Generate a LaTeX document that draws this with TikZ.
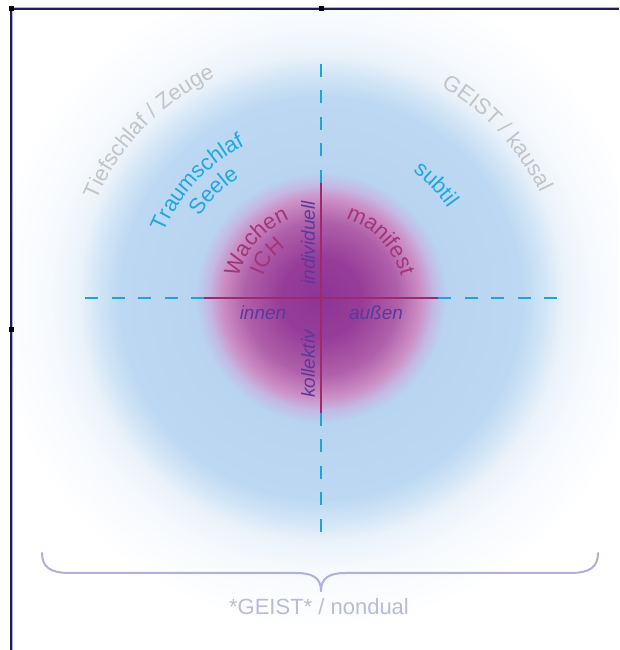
\documentclass[tikz,border=0pt]{standalone}
\usepackage{fontspec}
\setmainfont{Liberation Sans}
\usetikzlibrary{decorations.text,calc}
\definecolor{g0}{RGB}{142,52,150}
\definecolor{g1}{RGB}{150,60,152}
\definecolor{g2}{RGB}{176,96,170}
\definecolor{g3}{RGB}{204,142,196}
\definecolor{g4}{RGB}{196,184,228}
\definecolor{g5}{RGB}{184,212,240}
\definecolor{g6}{RGB}{188,216,242}
\definecolor{g7}{RGB}{208,228,246}
\definecolor{g8}{RGB}{234,242,250}
\definecolor{g9}{RGB}{246,249,253}
\definecolor{g10}{RGB}{255,255,255}
\definecolor{dashblue}{RGB}{27,165,220}
\definecolor{txtblue}{RGB}{30,168,224}
\definecolor{txtgray}{RGB}{196,196,198}
\definecolor{linepurp}{RGB}{158,42,110}
\definecolor{txtpurp}{RGB}{165,52,120}
\definecolor{indigo}{RGB}{88,58,158}
\definecolor{bracecol}{RGB}{176,176,220}
\definecolor{botcol}{RGB}{186,186,220}
\definecolor{framelav}{RGB}{178,178,222}
\definecolor{framenavy}{RGB}{30,30,80}
\pgfdeclareradialshading{glow}{\pgfpoint{0bp}{0bp}}{color(0bp)=(g0); color(3bp)=(g1); color(5.8bp)=(g2); color(7.5bp)=(g3); color(8.5bp)=(g4); color(9.5bp)=(g5); color(15.2bp)=(g6); color(16.8bp)=(g7); color(18.4bp)=(g8); color(20.5bp)=(g9); color(25bp)=(g10); color(50bp)=(white)}
\newcommand\dgOuter{\fontsize{22}{26}\selectfont\color{txtgray}}
\newcommand\dgBlue{\fontsize{22}{26}\selectfont\color{txtblue}}
\newcommand\dgPurp{\fontsize{22}{26}\selectfont\color{txtpurp}}
\begin{document}
\begin{tikzpicture}[x=1pt,y=1pt,
  dashln/.style={draw=dashblue,line width=2.5pt,dash pattern=on 13pt off 13.5pt},
  purpln/.style={draw=linepurp,line width=2.5pt},
  ital/.style={font=\fontsize{19}{22}\selectfont\itshape,text=indigo,inner sep=0pt},
  bracestyle/.style={draw=bracecol,line width=2pt,line cap=round}]
\useasboundingbox (0,0) rectangle (619,650);
\fill[white] (0,0) rectangle (619,650);
\coordinate (C) at (321,352);
\begin{scope}
\clip (12,0) rectangle (619,640);
\shade[shading=glow] (C) circle (330);
\end{scope}
% dashed axes
\coordinate (pl) at (204,352);
\coordinate (pr) at (438,352);
\coordinate (pt) at (321,467);
\coordinate (pb) at (321,237);
\coordinate (dl) at (85,352);
\coordinate (dr) at (557,352);
\coordinate (dt) at (321,587);
\coordinate (db) at (321,115);
\draw[dashln] (pl) -- (dl);
\draw[dashln] (pr) -- (dr);
\draw[dashln] (pt) -- (dt);
\draw[dashln] (pb) -- (db);
\draw[purpln] (pl) -- (pr);
\draw[purpln] (pt) -- (pb);
% curved texts
\path[decorate,decoration={text along path,text align=center,text={|\dgOuter|Tiefschlaf / Zeuge}}] ($(C)+(176:245)$) arc[start angle=176,end angle=96,radius=245];
\path[decorate,decoration={text along path,text align=center,text={|\dgOuter|GEIST / kausal}}] ($(C)+(83:243)$) arc[start angle=83,end angle=3,radius=243];
\path[decorate,decoration={text along path,text align=center,text={|\dgBlue|Traumschlaf}}] ($(C)+(172:170)$) arc[start angle=172,end angle=102,radius=170];
\path[decorate,decoration={text along path,text align=center,text={|\dgBlue|Seele}}] ($(C)+(165:146)$) arc[start angle=165,end angle=105,radius=146];
\path[decorate,decoration={text along path,text align=center,text={|\dgBlue|subtil}}] ($(C)+(74.5:156)$) arc[start angle=74.5,end angle=14.5,radius=156];
\path[decorate,decoration={text along path,text align=center,text={|\dgPurp|Wachen}}] ($(C)+(184:85)$) arc[start angle=184,end angle=94,radius=85];
\path[decorate,decoration={text along path,text align=center,text={|\dgPurp|ICH}}] ($(C)+(182:62)$) arc[start angle=182,end angle=102,radius=62];
\path[decorate,decoration={text along path,text align=center,text={|\dgPurp|manifest}}] ($(C)+(89:83)$) arc[start angle=89,end angle=-1,radius=83];
% italic labels
\node[ital,rotate=90] (indiv) at (308,407) {individuell};
\node[ital,rotate=90] (koll) at (308,286) {kollektiv};
\node[ital] (innen) at (263,337) {innen};
\node[ital] (aussen) at (376,337) {außen};
% brace
\coordinate (bl) at (42,97);
\coordinate (br) at (598,97);
\coordinate (tip) at (321,59);
\draw[bracestyle] (bl) .. controls (42,83) and (50,77) .. (70,77) -- (296,77) .. controls (313,77) and (321,72) .. (tip);
\draw[bracestyle] (br) .. controls (598,83) and (590,77) .. (570,77) -- (346,77) .. controls (329,77) and (321,72) .. (tip);
\node[font=\fontsize{22}{26}\selectfont,text=botcol] (nondual) at (319,43) {*GEIST* / nondual};
% frame
\draw[framelav,line width=3pt] (11,0) -- (11,641) -- (619,641);
\draw[framenavy,line width=1.2pt] (11,0) -- (11,641) -- (619,641);
\fill[black] (8.5,638.5) rectangle (13.5,643.5);
\fill[black] (318.5,638.5) rectangle (323.5,643.5);
\fill[black] (8.5,317.5) rectangle (13.5,322.5);
\end{tikzpicture}
\end{document}
